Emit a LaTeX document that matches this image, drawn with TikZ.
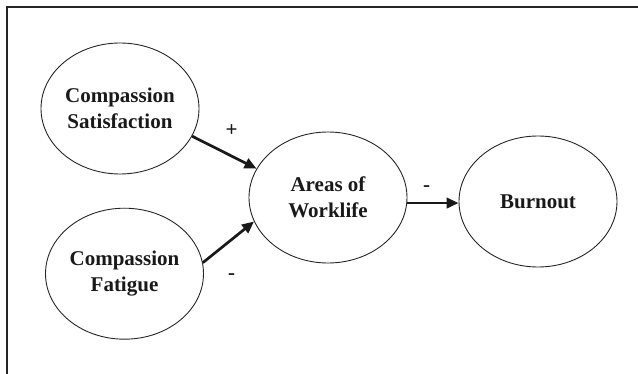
\documentclass[tikz,border=0pt]{standalone}
\usepackage{fontspec}
\setmainfont{Liberation Serif}
\usetikzlibrary{arrows.meta,shapes.geometric}
\begin{document}
\begin{tikzpicture}[x=1pt,y=-1pt,
  concept/.style={draw=black!85,line width=0.9pt,ellipse,inner sep=0pt,
    minimum width=158pt,minimum height=131pt,align=center,
    font=\fontsize{21}{26.5}\selectfont\bfseries,text=black!90},
  arr/.style={line width=2.7pt,draw=black!90,-{Triangle[length=12pt,width=10.5pt]}},
  sign/.style={font=\fontsize{21}{22}\selectfont\bfseries,text=black!90},
  frame/.style={line width=1.3pt,draw=black!85}]
\useasboundingbox (0,0) rectangle (638,374);
\draw[frame] (7,374) -- (7,7) -- (638,7);
\node[concept] (cs) at (120,108.5) {Compassion\\Satisfaction};
\node[concept] (cf) at (124.5,273.7) {Compassion\\Fatigue};
\node[concept] (aw) at (328,197.5) {Areas of\\Worklife};
\node[concept] (bo) at (538,201.5) {Burnout};
\draw[arr] (cs.-21) -- (aw.158.5);
\draw[arr] (cf.8.7) -- (aw.198);
\draw[arr] (aw.-4.7) -- (aw.-4.7 -| bo.west);
\node[sign] (p1) at (231.7,131) {+};
\node[sign] (m1) at (231.7,277) {-};
\node[sign] (m2) at (426.7,189) {-};
\end{tikzpicture}
\end{document}
